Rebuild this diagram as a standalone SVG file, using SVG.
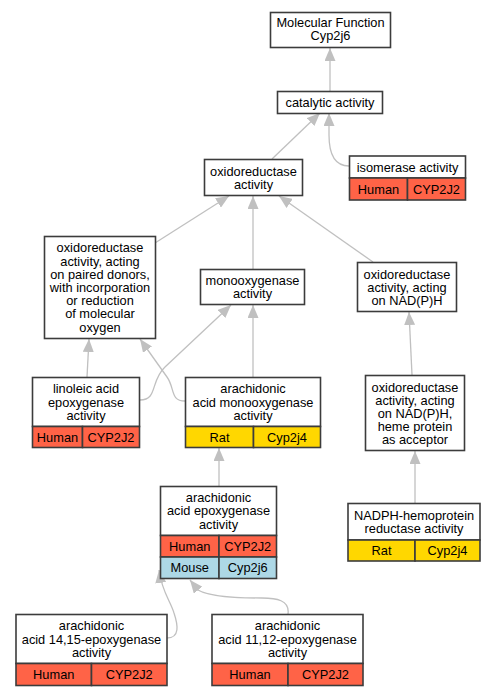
<svg xmlns="http://www.w3.org/2000/svg" width="495" height="696" viewBox="0 0 495 696">
<defs>
<style>
.n{fill:#fff;stroke:#3c3c3c;stroke-width:1.6}
.h{fill:#ff6347;stroke:#3c3c3c;stroke-width:1.6}
.r{fill:#ffd700;stroke:#3c3c3c;stroke-width:1.6}
.m{fill:#add8e6;stroke:#3c3c3c;stroke-width:1.6}
text{font-family:"Liberation Sans",Arial,sans-serif;font-size:12.8px;fill:#000;text-anchor:middle}
.e{fill:none;stroke:#c0c0c0;stroke-width:1.3;marker-end:url(#arr)}
</style>
<marker id="arr" markerUnits="userSpaceOnUse" markerWidth="13" markerHeight="11" refX="13" refY="5.5" orient="auto" viewBox="0 0 13 11">
<path d="M0,0 L13,5.5 L0,11 Z" fill="#c0c0c0"/>
</marker>
</defs>
<rect width="495" height="696" fill="#fff"/>
<g id="edges">
<path class="e" d="M330,91 L330,48"/>
<path class="e" d="M349,166 C335,166 329,155 329,135 L329,113"/>
<path class="e" d="M272,159 L320,113"/>
<path class="e" d="M155,243 L229,196"/>
<path class="e" d="M253,269 L253,196"/>
<path class="e" d="M373,262 L279,196"/>
<path class="e" d="M87,377 L89,339"/>
<path class="e" d="M140,400 C158,400 150,381 165,367 L231,305"/>
<path class="e" d="M185,401 C170,401 175,388 167,377 L140,339"/>
<path class="e" d="M253,377 L253,305"/>
<path class="e" d="M412,375 L409,312"/>
<path class="e" d="M415,503 L415,451"/>
<path class="e" d="M219,486 L219,448"/>
<path class="e" d="M167,638 C180,638 178,625 174,613 C170,600 162,592 159,570"/>
<path class="e" d="M288,614 C290,600 276,598 262,598 C235,598 210,597 198,590 L190,580"/>
</g>
<g id="mf">
<rect class="n" x="270.5" y="12.5" width="120" height="35"/>
<text x="330.5" y="27">Molecular Function<tspan x="330.5" dy="13">Cyp2j6</tspan></text>
</g>
<g id="catalytic">
<rect class="n" x="277.5" y="91.5" width="105" height="22"/>
<text x="330" y="106.5">catalytic activity</text>
</g>
<g id="isomerase">
<rect class="n" x="349.5" y="156" width="116" height="22"/>
<rect class="h" x="349.5" y="178" width="58" height="22"/>
<rect class="h" x="407.5" y="178" width="58" height="22"/>
<text x="407.5" y="171.5">isomerase activity</text>
<text x="378.5" y="193.5">Human</text>
<text x="436.5" y="193.5">CYP2J2</text>
</g>
<g id="oxidoreductase">
<rect class="n" x="204.5" y="159.5" width="98" height="36"/>
<text x="253.5" y="175.5">oxidoreductase<tspan x="253.5" dy="13">activity</tspan></text>
</g>
<g id="paired">
<rect class="n" x="44.5" y="236.5" width="111" height="102"/>
<text x="100" y="252.4">oxidoreductase<tspan x="100" dy="13.2">activity, acting</tspan><tspan x="100" dy="13.2">on paired donors,</tspan><tspan x="100" dy="13.2">with incorporation</tspan><tspan x="100" dy="13.2">or reduction</tspan><tspan x="100" dy="13.2">of molecular</tspan><tspan x="100" dy="13.2">oxygen</tspan></text>
</g>
<g id="monooxygenase">
<rect class="n" x="200.5" y="269.5" width="104" height="35"/>
<text x="252.5" y="284.9">monooxygenase<tspan x="252.5" dy="13.2">activity</tspan></text>
</g>
<g id="nadph">
<rect class="n" x="357.5" y="262.5" width="99" height="49"/>
<text x="407" y="279">oxidoreductase<tspan x="407" dy="13.2">activity, acting</tspan><tspan x="407" dy="13.2">on NAD(P)H</tspan></text>
</g>
<g id="linoleic">
<rect class="n" x="32.5" y="377.5" width="107" height="49"/>
<rect class="h" x="32.5" y="426.5" width="50" height="21"/>
<rect class="h" x="82.5" y="426.5" width="57" height="21"/>
<text x="86" y="393.3">linoleic acid<tspan x="86" dy="13.2">epoxygenase</tspan><tspan x="86" dy="13.2">activity</tspan></text>
<text x="57.5" y="441.5">Human</text>
<text x="111" y="441.5">CYP2J2</text>
</g>
<g id="arachmono">
<rect class="n" x="185.5" y="377.5" width="135" height="49"/>
<rect class="r" x="185.5" y="426.5" width="68" height="21"/>
<rect class="r" x="253.5" y="426.5" width="67" height="21"/>
<text x="253" y="393.3">arachidonic<tspan x="253" dy="13.2">acid monooxygenase</tspan><tspan x="253" dy="13.2">activity</tspan></text>
<text x="219.5" y="441.5">Rat</text>
<text x="287" y="441.5">Cyp2j4</text>
</g>
<g id="heme">
<rect class="n" x="365.5" y="375.5" width="99" height="75"/>
<text x="415" y="391.5">oxidoreductase<tspan x="415" dy="13.2">activity, acting</tspan><tspan x="415" dy="13.2">on NAD(P)H,</tspan><tspan x="415" dy="13.2">heme protein</tspan><tspan x="415" dy="13.2">as acceptor</tspan></text>
</g>
<g id="epoxygenase">
<rect class="n" x="160.5" y="486.5" width="116" height="49"/>
<rect class="h" x="160.5" y="535.5" width="58.5" height="21.5"/>
<rect class="h" x="219" y="535.5" width="57.5" height="21.5"/>
<rect class="m" x="160.5" y="557" width="58.5" height="21.5"/>
<rect class="m" x="219" y="557" width="57.5" height="21.5"/>
<text x="218.5" y="502.2">arachidonic<tspan x="218.5" dy="13.2">acid epoxygenase</tspan><tspan x="218.5" dy="13.2">activity</tspan></text>
<text x="189.75" y="550.8">Human</text>
<text x="247.75" y="550.8">CYP2J2</text>
<text x="189.75" y="572.3">Mouse</text>
<text x="247.75" y="572.3">Cyp2j6</text>
</g>
<g id="hemoprotein">
<rect class="n" x="348" y="503.5" width="132" height="36.5"/>
<rect class="r" x="348" y="540" width="67" height="21"/>
<rect class="r" x="415" y="540" width="65" height="21"/>
<text x="414" y="519.7">NADPH-hemoprotein<tspan x="414" dy="13.2">reductase activity</tspan></text>
<text x="381.5" y="555">Rat</text>
<text x="447.5" y="555">Cyp2j4</text>
</g>
<g id="epox1415">
<rect class="n" x="16" y="614.5" width="151" height="49"/>
<rect class="h" x="16" y="663.5" width="75.5" height="22"/>
<rect class="h" x="91.5" y="663.5" width="75.5" height="22"/>
<text x="91.5" y="630.3">arachidonic<tspan x="91.5" dy="13.2">acid 14,15-epoxygenase</tspan><tspan x="91.5" dy="13.2">activity</tspan></text>
<text x="53.75" y="679">Human</text>
<text x="129.25" y="679">CYP2J2</text>
</g>
<g id="epox1112">
<rect class="n" x="212" y="614.5" width="151" height="49"/>
<rect class="h" x="212" y="663.5" width="76" height="22"/>
<rect class="h" x="288" y="663.5" width="75" height="22"/>
<text x="287.5" y="630.3">arachidonic<tspan x="287.5" dy="13.2">acid 11,12-epoxygenase</tspan><tspan x="287.5" dy="13.2">activity</tspan></text>
<text x="250" y="679">Human</text>
<text x="325.5" y="679">CYP2J2</text>
</g>
</svg>
